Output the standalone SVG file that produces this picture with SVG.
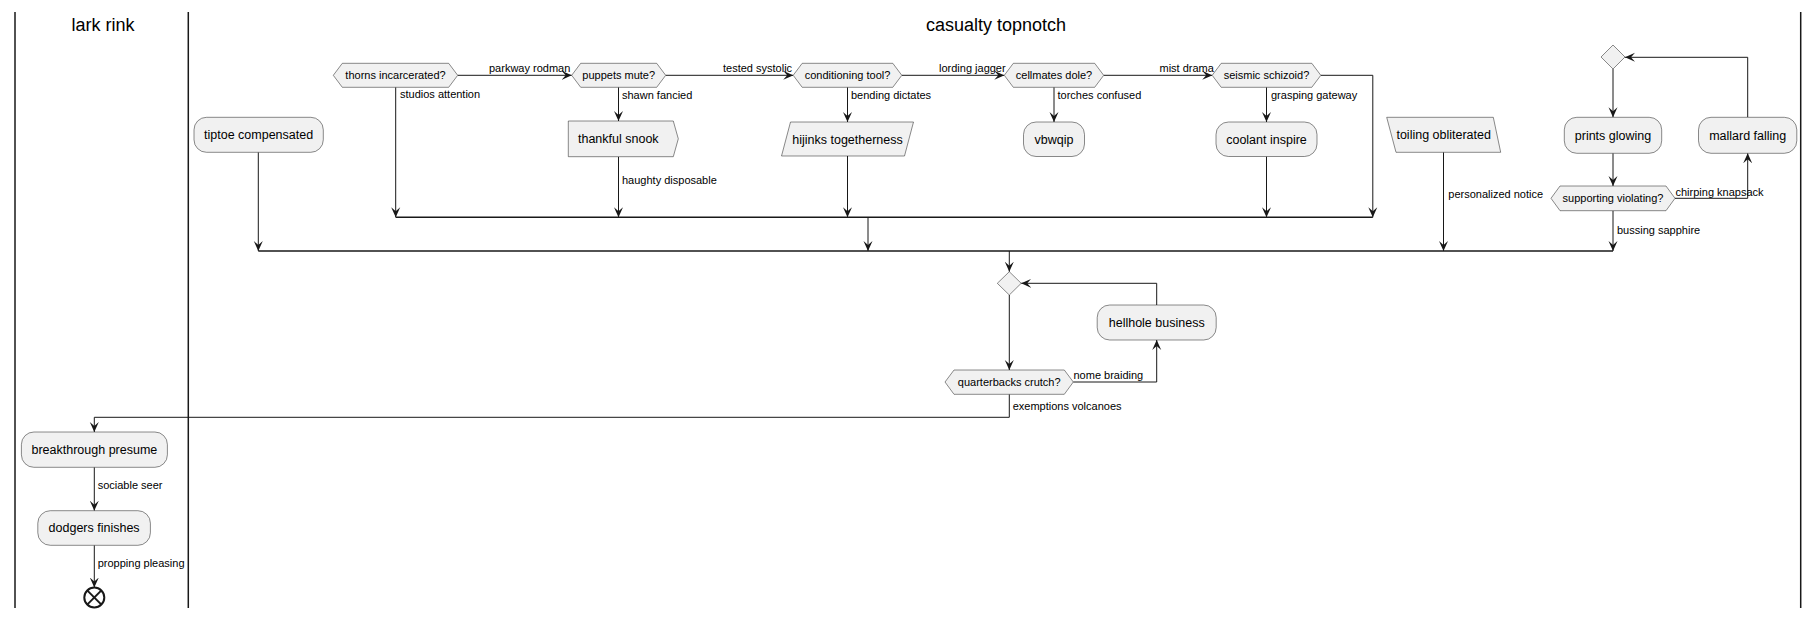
<svg xmlns="http://www.w3.org/2000/svg" width="1819" height="618" viewBox="0 0 1819 618">
<style>
text{font-family:"Liberation Sans",Arial,sans-serif;fill:#000}
.title{font-size:18px;text-anchor:middle}
.bt{font-size:12.5px;text-anchor:middle}
.ht{font-size:11px;text-anchor:middle}
.lb{font-size:11px}
.box{fill:#F1F1F1;stroke:#181818;stroke-width:0.5}
.lane{stroke:#181818;stroke-width:1.5;fill:none}
.c{fill:none;stroke:#181818;stroke-width:1}
.bar{fill:none;stroke:#181818;stroke-width:1.5}
.ca{fill:none;stroke:#181818;stroke-width:1;marker-end:url(#ah)}
</style>
<defs>
<marker id="ah" markerUnits="userSpaceOnUse" markerWidth="10" markerHeight="10" viewBox="0 0 10 10" refX="10" refY="5" orient="auto">
<path d="M0,0.5 L10,5 L0,9.5 L4,5 Z" fill="#181818"/>
</marker>
</defs>
<rect x="0" y="0" width="1819" height="618" fill="#FFFFFF"/>
<g id="swimlanes">
<line class="lane" x1="15" y1="12" x2="15" y2="608"/>
<line class="lane" x1="188.3" y1="12" x2="188.3" y2="608"/>
<line class="lane" x1="1800.7" y1="12" x2="1800.7" y2="608"/>
<text class="title" x="103" y="31">lark rink</text>
<text class="title" x="996" y="31">casualty topnotch</text>
</g>
<g id="connectors">
<line class="ca" x1="457.7" y1="75.3" x2="571.7" y2="75.3"/>
<line class="ca" x1="665.7" y1="75.3" x2="793.2" y2="75.3"/>
<line class="ca" x1="901.8" y1="75.3" x2="1004.3" y2="75.3"/>
<line class="ca" x1="1103.7" y1="75.3" x2="1212.2" y2="75.3"/>
<line class="ca" x1="395.7" y1="87.3" x2="395.7" y2="217.3"/>
<line class="ca" x1="618.5" y1="87.3" x2="618.5" y2="121"/>
<line class="ca" x1="618.5" y1="156.7" x2="618.5" y2="217.3"/>
<line class="ca" x1="847.5" y1="87.3" x2="847.5" y2="122"/>
<line class="ca" x1="847.5" y1="156" x2="847.5" y2="217.3"/>
<line class="ca" x1="1054" y1="87.3" x2="1054" y2="122"/>
<line class="ca" x1="1266.5" y1="87.3" x2="1266.5" y2="122"/>
<line class="ca" x1="1266.5" y1="156.5" x2="1266.5" y2="217.3"/>
<polyline class="ca" points="1320.8,75.3 1372.8,75.3 1372.8,217.3"/>
<line class="bar" x1="395.7" y1="217.3" x2="1372.8" y2="217.3"/>
<line class="ca" x1="868" y1="217.3" x2="868" y2="251"/>
<line class="ca" x1="258.3" y1="152.3" x2="258.3" y2="251"/>
<line class="ca" x1="1443.5" y1="152.3" x2="1443.5" y2="251"/>
<line class="ca" x1="1613" y1="69" x2="1613" y2="117.3"/>
<line class="ca" x1="1613" y1="153.3" x2="1613" y2="186"/>
<polyline class="ca" points="1675,198.3 1747.7,198.3 1747.7,153.3"/>
<polyline class="ca" points="1747.7,117.3 1747.7,57.3 1625,57.3"/>
<line class="ca" x1="1613" y1="210.7" x2="1613" y2="251"/>
<line class="bar" x1="258.3" y1="251" x2="1613" y2="251"/>
<line class="ca" x1="1009.3" y1="251" x2="1009.3" y2="271.7"/>
<line class="ca" x1="1009.3" y1="295" x2="1009.3" y2="370"/>
<polyline class="ca" points="1073.3,382 1156.7,382 1156.7,340"/>
<polyline class="ca" points="1156.7,305 1156.7,283.3 1021.2,283.3"/>
<polyline class="ca" points="1009.3,394.3 1009.3,417.3 94.3,417.3 94.3,432"/>
<line class="ca" x1="94.3" y1="467.3" x2="94.3" y2="510.7"/>
<line class="ca" x1="94.3" y1="545.3" x2="94.3" y2="587.5"/>
<text class="lb" x="489" y="72">parkway rodman</text>
<text class="lb" x="723" y="72">tested systolic</text>
<text class="lb" x="939" y="72">lording jagger</text>
<text class="lb" x="1159.5" y="72">mist drama</text>
<text class="lb" x="400" y="98.3">studios attention</text>
<text class="lb" x="622" y="99">shawn fancied</text>
<text class="lb" x="851" y="99">bending dictates</text>
<text class="lb" x="1057.5" y="99">torches confused</text>
<text class="lb" x="1271" y="99">grasping gateway</text>
<text class="lb" x="622" y="184">haughty disposable</text>
<text class="lb" x="1448.3" y="198.3">personalized notice</text>
<text class="lb" x="1675.5" y="195.7">chirping knapsack</text>
<text class="lb" x="1617" y="234">bussing sapphire</text>
<text class="lb" x="1073.5" y="379.3">nome braiding</text>
<text class="lb" x="1012.7" y="410">exemptions volcanoes</text>
<text class="lb" x="97.7" y="489">sociable seer</text>
<text class="lb" x="97.7" y="566.7">propping pleasing</text>
</g>
<g id="tiptoe-compensated">
<rect class="box" x="194" y="117.3" width="129.3" height="35" rx="12.5" ry="12.5"/>
<text class="bt" x="258.6" y="139.2">tiptoe compensated</text>
</g>
<g id="thorns-incarcerated">
<polygon class="box" points="333.3,75.3 342.3,63.3 448.7,63.3 457.7,75.3 448.7,87.3 342.3,87.3"/>
<text class="ht" x="395.5" y="79.3">thorns incarcerated?</text>
</g>
<g id="puppets-mute">
<polygon class="box" points="571.7,75.3 580.7,63.3 656.7,63.3 665.7,75.3 656.7,87.3 580.7,87.3"/>
<text class="ht" x="618.7" y="79.3">puppets mute?</text>
</g>
<g id="thankful-snook">
<polygon class="box" points="568.3,121 673.3,121 678.3,138.8 673.3,156.7 568.3,156.7"/>
<text class="bt" x="618.3" y="143.3">thankful snook</text>
</g>
<g id="conditioning-tool">
<polygon class="box" points="793.2,75.3 802.2,63.3 892.8,63.3 901.8,75.3 892.8,87.3 802.2,87.3"/>
<text class="ht" x="847.5" y="79.3">conditioning tool?</text>
</g>
<g id="hijinks-togetherness">
<polygon class="box" points="790.5,122 913.5,122 904.5,156 781.5,156"/>
<text class="bt" x="847.5" y="143.5">hijinks togetherness</text>
</g>
<g id="cellmates-dole">
<polygon class="box" points="1004.3,75.3 1013.3,63.3 1094.7,63.3 1103.7,75.3 1094.7,87.3 1013.3,87.3"/>
<text class="ht" x="1054" y="79.3">cellmates dole?</text>
</g>
<g id="vbwqip">
<rect class="box" x="1023.5" y="122" width="61" height="34.5" rx="12.5" ry="12.5"/>
<text class="bt" x="1054" y="143.5">vbwqip</text>
</g>
<g id="seismic-schizoid">
<polygon class="box" points="1212.2,75.3 1221.2,63.3 1311.8,63.3 1320.8,75.3 1311.8,87.3 1221.2,87.3"/>
<text class="ht" x="1266.5" y="79.3">seismic schizoid?</text>
</g>
<g id="coolant-inspire">
<rect class="box" x="1216" y="122" width="101" height="34.5" rx="12.5" ry="12.5"/>
<text class="bt" x="1266.5" y="143.5">coolant inspire</text>
</g>
<g id="toiling-obliterated">
<polygon class="box" points="1386.7,117.3 1493.3,117.3 1500.7,152.3 1396,152.3"/>
<text class="bt" x="1443.7" y="139.2">toiling obliterated</text>
</g>
<g id="repeat-start">
<polygon class="box" points="1601,57 1613,45 1625,57 1613,69"/>
</g>
<g id="prints-glowing">
<rect class="box" x="1564.3" y="117.3" width="97.4" height="36" rx="12.5" ry="12.5"/>
<text class="bt" x="1613" y="139.7">prints glowing</text>
</g>
<g id="supporting-violating">
<polygon class="box" points="1551,198.3 1560,186 1666,186 1675,198.3 1666,210.7 1560,210.7"/>
<text class="ht" x="1613" y="202.3">supporting violating?</text>
</g>
<g id="mallard-falling">
<rect class="box" x="1698.5" y="117.3" width="98.3" height="36" rx="12.5" ry="12.5"/>
<text class="bt" x="1747.7" y="139.7">mallard falling</text>
</g>
<g id="repeat-start-2">
<polygon class="box" points="997.3,283.3 1009.3,271.7 1021.2,283.3 1009.3,295"/>
</g>
<g id="hellhole-business">
<rect class="box" x="1097.2" y="305" width="119" height="35" rx="12.5" ry="12.5"/>
<text class="bt" x="1156.7" y="326.9">hellhole business</text>
</g>
<g id="quarterbacks-crutch">
<polygon class="box" points="945,382 954,370 1064.3,370 1073.3,382 1064.3,394.3 954,394.3"/>
<text class="ht" x="1009.2" y="386">quarterbacks crutch?</text>
</g>
<g id="breakthrough-presume">
<rect class="box" x="21.4" y="432" width="146" height="35.3" rx="12.5" ry="12.5"/>
<text class="bt" x="94.4" y="454">breakthrough presume</text>
</g>
<g id="dodgers-finishes">
<rect class="box" x="37.8" y="510.7" width="112.6" height="34.6" rx="12.5" ry="12.5"/>
<text class="bt" x="94.1" y="532.4">dodgers finishes</text>
</g>
<g id="end">
<circle cx="94.3" cy="597.5" r="10" fill="#FFFFFF" stroke="#181818" stroke-width="2"/>
<line x1="87.2" y1="590.4" x2="101.4" y2="604.6" stroke="#181818" stroke-width="2"/>
<line x1="101.4" y1="590.4" x2="87.2" y2="604.6" stroke="#181818" stroke-width="2"/>
</g>
</svg>
